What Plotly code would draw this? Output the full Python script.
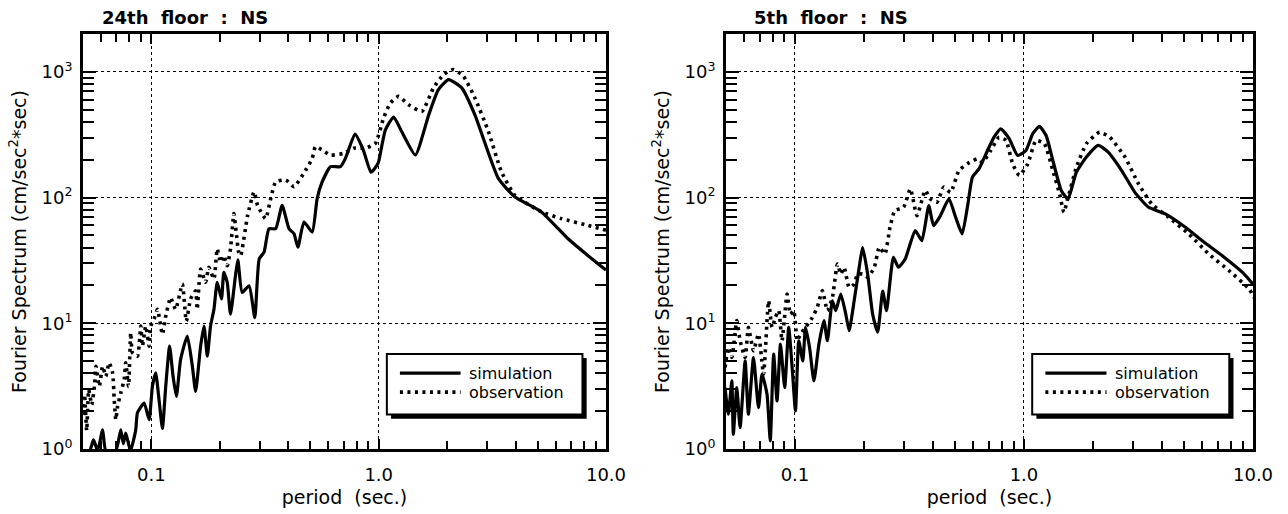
import math
import plotly.graph_objects as go

# ---------------- 24th floor : NS ----------------
f24_sim_period = [0.0498, 0.0535, 0.0556, 0.0580, 0.0610, 0.0630, 0.0697, 0.0733, 0.0752, 0.0771,
                  0.0809, 0.0853, 0.0868, 0.0929, 0.0977, 0.1010, 0.1044, 0.1080, 0.1118, 0.1156,
                  0.1202, 0.1245, 0.1288, 0.1344, 0.1439, 0.1514, 0.1565, 0.1646, 0.1703, 0.1762,
                  0.1820, 0.1884, 0.1948, 0.2034, 0.2083, 0.2155, 0.2228, 0.2343, 0.2400, 0.2507,
                  0.269, 0.285, 0.298, 0.313, 0.329, 0.352, 0.376, 0.403, 0.424, 0.441,
                  0.469, 0.510, 0.536, 0.564, 0.614, 0.679, 0.714, 0.787, 0.855, 0.925,
                  0.983, 1.00, 1.07, 1.164, 1.26, 1.45, 1.66, 1.83, 2.03, 2.32,
                  2.65, 3.36, 3.98, 5.2, 6.81, 8.34, 10.0]
f24_sim_value = [0.97, 0.97, 1.18, 0.97, 1.42, 0.97, 0.97, 1.42, 1.10, 1.34,
                 0.97, 1.42, 1.94, 2.32, 1.71, 3.15, 4.03, 2.47, 1.46, 3.15,
                 6.58, 3.79, 2.62, 5.15, 7.91, 4.55, 2.87, 6.58, 9.51, 5.47,
                 9.51, 12.9, 21.2, 15.6, 25.4, 21.2, 11.8, 23.9, 32.0, 17.6,
                 19.9, 11.1, 32.5, 36.8, 56.5, 56.5, 86.8, 56.5, 51.5, 40.3,
                 63.9, 53.1, 98.2, 133, 176, 176, 205, 320, 240, 159,
                 181, 194, 345, 437, 337, 218, 455, 722, 867, 745,
                 455, 142, 101, 76.9, 47.0, 34.5, 26.5]

f24_obs_period = [0.0498, 0.0508, 0.0519, 0.0530, 0.0546, 0.0562, 0.0570, 0.0590, 0.0610, 0.0630,
                  0.0652, 0.0675, 0.0686, 0.0697, 0.0710, 0.0733, 0.0759, 0.0771, 0.0793, 0.0811,
                  0.0825, 0.0868, 0.0898, 0.0913, 0.0944, 0.0977, 0.0993, 0.1027, 0.1063, 0.1118,
                  0.1156, 0.1215, 0.1278, 0.1368, 0.1424, 0.1487, 0.1565, 0.1590, 0.1646, 0.1730,
                  0.1790, 0.1884, 0.1948, 0.2014, 0.2083, 0.2155, 0.2228, 0.2305, 0.2360, 0.2420,
                  0.247, 0.265, 0.283, 0.293, 0.318, 0.335, 0.352, 0.390, 0.424, 0.477,
                  0.510, 0.527, 0.564, 0.614, 0.703, 0.777, 0.874, 0.967, 1.05, 1.125,
                  1.224, 1.354, 1.55, 1.74, 1.93, 2.13, 2.36, 2.65, 3.04, 3.47,
                  3.98, 5.2, 6.36, 8.34, 10.0]
f24_obs_value = [1.87, 2.70, 1.40, 2.96, 2.25, 3.20, 4.55, 3.15, 4.55, 3.79,
                 4.85, 4.03, 2.47, 1.71, 2.18, 2.79, 3.57, 4.85, 3.15, 8.42,
                 5.83, 5.47, 9.51, 6.58, 9.51, 6.58, 9.51, 10.8, 12.9, 8.17,
                 11.4, 16.0, 12.9, 20.5, 10.4, 15.6, 18.1, 12.9, 27.0, 21.2,
                 27.9, 22.5, 39.1, 30.6, 34.5, 28.7, 39.1, 74.5, 53.1, 36.8,
                 34.5, 72.0, 111, 86.8, 68.0, 98.2, 133, 138, 122, 165,
                 205, 254, 239, 218, 225, 247, 247, 270, 428, 565,
                 639, 547, 485, 745, 952, 1043, 923, 620, 335, 160,
                 104, 77.0, 68.0, 60.0, 55.0]

# ---------------- 5th floor : NS ----------------
f5_sim_period = [0.0495, 0.0512, 0.0530, 0.0538, 0.0557, 0.0576, 0.0606, 0.0626, 0.0659, 0.0693,
                 0.0718, 0.0755, 0.0780, 0.0807, 0.0835, 0.0864, 0.0902, 0.0939, 0.0972, 0.1005,
                 0.1039, 0.1082, 0.1112, 0.1158, 0.1210, 0.1272, 0.1338, 0.1385, 0.1457, 0.1507,
                 0.1585, 0.1667, 0.1724, 0.1813, 0.1907, 0.1974, 0.2077, 0.2184, 0.2297, 0.2416,
                 0.251, 0.269, 0.283, 0.303, 0.335, 0.358, 0.384, 0.403, 0.432, 0.470,
                 0.503, 0.537, 0.569, 0.595, 0.636, 0.693, 0.740, 0.792, 0.862, 0.938,
                 1.02, 1.092, 1.168, 1.249, 1.337, 1.454, 1.557, 1.693, 1.873, 2.11,
                 2.333, 2.67, 3.05, 3.50, 4.14, 5.07, 6.00, 7.34, 9.00, 10.0]
f5_sim_value = [3.08, 1.89, 3.48, 1.31, 3.08, 1.48, 5.02, 1.89, 5.34, 2.13,
                3.94, 2.73, 1.16, 5.68, 2.41, 6.82, 3.08, 9.27, 4.45, 2.01,
                7.26, 5.02, 9.27, 6.41, 3.48, 6.82, 10.5, 7.26, 15.1, 12.6,
                17.1, 11.8, 8.73, 15.1, 27.8, 40.2, 24.6, 11.8, 8.5, 18.0,
                12.6, 33.5, 27.9, 32.5, 54.6, 45.4, 86.3, 59.8, 71.9, 97.7,
                69.7, 51.4, 89.0, 145, 169, 237, 302, 352, 294, 216,
                237, 322, 368, 312, 197, 114, 97.7, 159, 210, 260,
                230, 164, 110, 83.7, 74.1, 58.0, 45.4, 34.5, 25.4, 20.5]

f5_obs_period = [0.0495, 0.0512, 0.0530, 0.0557, 0.0576, 0.0606, 0.0626, 0.0659, 0.0693, 0.0729,
                 0.0767, 0.0794, 0.0821, 0.0849, 0.0878, 0.0924, 0.0955, 0.0988, 0.1022, 0.1057,
                 0.1112, 0.1190, 0.1252, 0.1317, 0.1385, 0.1457, 0.1533, 0.1585, 0.1639, 0.1724,
                 0.1813, 0.1877, 0.1974, 0.2077, 0.2220, 0.2335, 0.247, 0.260, 0.273, 0.298,
                 0.319, 0.341, 0.371, 0.390, 0.417, 0.446, 0.478, 0.520, 0.566, 0.626,
                 0.658, 0.716, 0.779, 0.834, 0.892, 0.954, 1.038, 1.129, 1.228, 1.337,
                 1.43, 1.494, 1.557, 1.693, 1.873, 2.14, 2.37, 2.76, 3.16, 3.61,
                 4.28, 5.24, 6.41, 7.86, 9.63, 10.1]
f5_obs_value = [4.45, 6.41, 5.34, 10.5, 7.26, 5.34, 9.27, 6.05, 8.2, 3.94,
                15.1, 9.27, 11.1, 12.6, 7.26, 17.1, 11.8, 12.6, 7.26, 8.2,
                9.27, 11.1, 13.4, 18.2, 12.6, 16.1, 29.6, 24.6, 27.8, 19.3,
                20.5, 24.6, 24.6, 23.2, 27.8, 40.2, 35.6, 58.0, 78.8, 83.7,
                117, 71.9, 114, 97.7, 91.8, 121, 110, 164, 186, 203,
                191, 237, 302, 285, 186, 150, 185, 285, 268, 164,
                107, 76.4, 100, 174, 268, 331, 302, 210, 129, 89.0,
                69.7, 51.4, 35.6, 26.2, 18.7, 16.0]

panel_titles = ["24th\u00a0 floor\u00a0 :\u00a0 NS", "5th\u00a0 floor\u00a0 :\u00a0 NS"]
x_tick_vals = [0.1, 1.0, 10.0]
x_tick_text = ["0.1", "1.0", "10.0"]
y_tick_vals = [1, 10, 100, 1000]
y_tick_text = ["10<sup>0</sup>", "10<sup>1</sup>", "10<sup>2</sup>", "10<sup>3</sup>"]
series_names = ["simulation", "observation"]

FONT = "DejaVu Sans"
SOLID = dict(color="black", width=3.2)
DOTTED = dict(color="black", width=3.6, dash="3px,4.5px")

fig = go.Figure()
panels = [
    ("x", "y", f24_sim_period, f24_sim_value, f24_obs_period, f24_obs_value),
    ("x2", "y2", f5_sim_period, f5_sim_value, f5_obs_period, f5_obs_value),
]
for xa, ya, sp, sv, op, ov in panels:
    fig.add_trace(go.Scatter(x=sp, y=sv, xaxis=xa, yaxis=ya, mode="lines",
                             line=dict(**SOLID, shape="spline", smoothing=0.5),
                             name=series_names[0], showlegend=False))
    fig.add_trace(go.Scatter(x=op, y=ov, xaxis=xa, yaxis=ya, mode="lines",
                             line=dict(**DOTTED, shape="spline", smoothing=0.5),
                             name=series_names[1], showlegend=False))


def x_axis(domain, anchor):
    return dict(
        domain=domain, anchor=anchor, type="log", automargin=False,
        range=[math.log10(0.05), 1.0],
        tickmode="array", tickvals=x_tick_vals, ticktext=x_tick_text,
        ticks="inside", ticklen=10, tickwidth=2, tickcolor="black",
        showline=True, linewidth=3, linecolor="black", mirror="allticks",
        showgrid=True, gridcolor="black", gridwidth=1, griddash="dot",
        minor=dict(ticks="inside", ticklen=8, tickwidth=1.6, tickcolor="black",
                   tickmode="linear", dtick="D1", showgrid=False),
        tickfont=dict(family=FONT, size=18, color="black"),
        ticklabelstandoff=7,
        title=dict(text="period\u00a0 (sec.)", font=dict(family=FONT, size=19, color="black"),
                   standoff=8),
        zeroline=False,
    )


def y_axis(anchor):
    return dict(
        domain=[0, 1], anchor=anchor, type="log", automargin=False,
        range=[0, math.log10(2000)],
        tickmode="array", tickvals=y_tick_vals, ticktext=y_tick_text,
        ticks="inside", ticklen=13, tickwidth=2, tickcolor="black",
        showline=True, linewidth=3, linecolor="black", mirror="allticks",
        showgrid=True, gridcolor="black", gridwidth=1, griddash="dot",
        minor=dict(ticks="inside", ticklen=11, tickwidth=1.6, tickcolor="black",
                   tickmode="linear", dtick="D1", showgrid=False),
        tickfont=dict(family=FONT, size=18, color="black"),
        ticklabelstandoff=4,
        title=dict(text="Fourier Spectrum (cm/sec<sup>2</sup>*sec)",
                   font=dict(family=FONT, size=19, color="black"), standoff=10),
        zeroline=False,
    )


fig.update_layout(
    width=1288, height=514,
    margin=dict(l=83, r=35, t=34, b=65, autoexpand=False),
    paper_bgcolor="white", plot_bgcolor="white",
    showlegend=False,
    xaxis=x_axis([0, 0.447], "y"),
    yaxis=y_axis("x"),
    xaxis2=x_axis([0.5496, 1.0], "y2"),
    yaxis2=y_axis("x2"),
)

# Panel titles and boxed keys with drop shadow
title_x = [0.032, 0.049]
for i, (xa, ya) in enumerate([("x", "y"), ("x2", "y2")]):
    xr, yr = f"{xa} domain", f"{ya} domain"
    fig.add_annotation(text=f"<b>{panel_titles[i]}</b>", xref=xr, yref=yr,
                       x=title_x[i], y=1.039, xanchor="left", yanchor="middle",
                       showarrow=False, font=dict(family=FONT, size=18, color="black"))
    x0, x1, y0, y1 = 0.581, 0.955, 0.083, 0.229
    fig.add_shape(type="rect", xref=xr, yref=yr, x0=x0 + 0.008, x1=x1 + 0.008,
                  y0=y0 - 0.010, y1=y1 - 0.010, fillcolor="black",
                  line=dict(color="black", width=0))
    fig.add_shape(type="rect", xref=xr, yref=yr, x0=x0, x1=x1, y0=y0, y1=y1,
                  fillcolor="white", line=dict(color="black", width=2))
    rows = [(0.183, SOLID), (0.137, DOTTED)]
    for (yy, style), label in zip(rows, series_names):
        fig.add_shape(type="line", xref=xr, yref=yr, x0=0.606, x1=0.722, y0=yy, y1=yy,
                      line=style)
        fig.add_annotation(text=label, xref=xr, yref=yr, x=0.735, y=yy,
                           xanchor="left", yanchor="middle", showarrow=False,
                           font=dict(family=FONT, size=16, color="black"))

fig.write_html("out.html")
